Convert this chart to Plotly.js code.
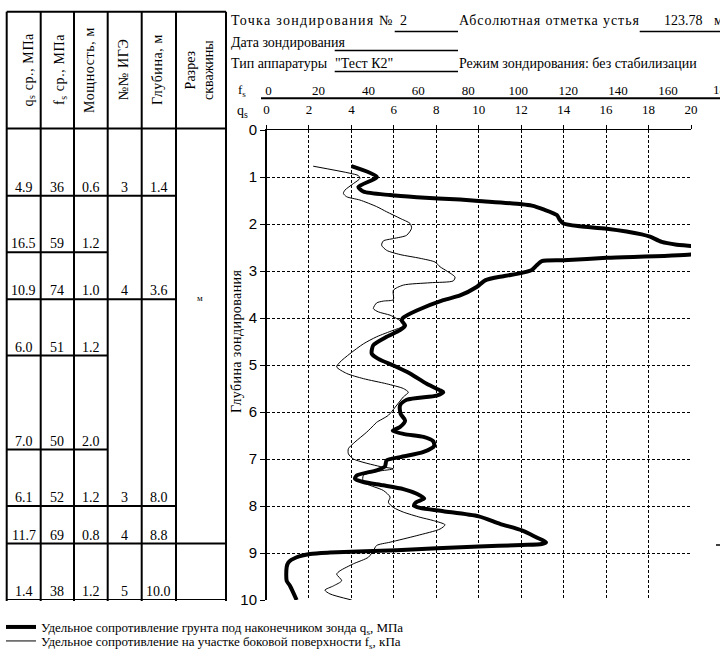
<!DOCTYPE html>
<html><head><meta charset="utf-8">
<script src="https://cdn.plot.ly/plotly-3.0.1.min.js"></script>
<style>html,body{margin:0;padding:0;background:#fff;}#chart{width:720px;height:651px;}</style>
</head><body><div id="chart"></div>
<script>
// ---- curve data (depth in m) ----
const qsDepth = [0.77,1.00,1.21,1.31,1.385,1.43,1.48,1.51,1.58,1.61,1.69,1.81,1.92,1.99,2.05,2.10,2.22,2.27,2.38,2.44,2.47,2.56,2.65,2.72,2.77,2.79,2.88,2.98,3.04,3.11,3.20,3.34,3.52,3.62,3.84,3.99,4.05,4.16,4.26,4.40,4.58,4.76,4.87,5.01,5.18,5.40,5.54,5.58,5.65,5.74,5.86,6.04,6.18,6.32,6.40,6.47,6.53,6.62,6.72,6.85,6.96,7.03,7.16,7.24,7.35,7.42,7.49,7.56,7.64,7.74,7.84,7.92,7.99,8.04,8.11,8.22,8.38,8.52,8.67,8.77,8.81,8.83,8.86,8.94,8.99,9.02,9.09,9.20,9.30,9.59,9.70,10.0];
const qsValues = [4.0,5.2,4.33,4.56,5.82,7.08,9.12,10.0,12.03,12.5,13.05,13.68,13.83,13.99,14.77,16.03,17.68,18.07,18.62,19.33,20.0,21.0,20.0,16.03,13.99,12.97,12.73,12.5,12.03,11.16,10.3,9.9,9.12,8.33,7.08,6.45,6.37,6.53,6.29,5.66,5.03,4.96,5.27,5.98,6.76,7.55,8.18,8.33,8.02,6.61,6.29,6.32,6.53,6.29,5.95,6.5,7.4,7.85,7.9,7.4,6.3,5.66,5.58,5.19,4.25,4.17,4.56,5.5,6.45,7.08,7.43,7.05,6.95,7.23,8.33,10.0,11.0,12.03,12.73,13.17,12.97,12.03,10.0,6.13,2.99,2.05,1.42,1.03,0.95,0.95,1.11,1.42];
const fsDepth = [0.77,0.92,0.97,1.03,1.14,1.28,1.35,1.42,1.49,1.63,1.74,1.88,1.99,2.09,2.24,2.31,2.36,2.45,2.56,2.65,2.73,2.81,2.91,3.00,3.13,3.21,3.25,3.30,3.41,3.61,3.64,3.68,3.80,3.87,3.94,4.01,4.11,4.18,4.26,4.40,4.55,4.76,4.94,5.04,5.18,5.29,5.40,5.50,5.58,5.68,5.90,6.07,6.22,6.29,6.43,6.64,6.78,6.89,7.00,7.16,7.21,7.26,7.35,7.49,7.67,7.81,7.92,8.03,8.13,8.24,8.31,8.40,8.49,8.63,8.77,8.84,8.95,9.09,9.23,9.38,9.45,9.59,9.70,9.79,9.87,10.0];
const fsValues = [17.9,32.6,36.0,36.6,34.0,30.6,30.0,31.3,36.6,43.3,47.3,52.7,56.7,57.3,55.3,50.0,46.0,45.3,47.3,52.7,60.7,66.7,68.7,71.4,74.7,74.0,64.7,54.0,50.0,50.0,46.0,43.3,42.0,44.0,48.7,51.3,54.0,53.7,50.0,43.3,38.0,32.6,28.6,27.3,31.3,38.0,47.3,54.0,56.0,54.0,50.7,48.0,43.3,42.0,39.3,34.6,32.0,32.0,34.0,44.7,50.0,44.0,38.0,38.0,46.0,48.7,48.0,50.0,54.0,60.7,66.0,70.7,68.7,59.4,48.7,43.3,42.0,40.0,34.0,28.6,27.3,29.3,26.0,22.6,24.6,33.3];

// ---- ticks ----
const depthTicks = [0,1,2,3,4,5,6,7,8,9,10];
const qsTicks = [0,2,4,6,8,10,12,14,16,18,20];
const fsTicks = [0,20,40,60,80,100,120,140,160];
const fsEdgeTick = 180;

// ---- layer table ----
const layerBottom = [1.4,2.6,3.6,4.8,6.8,8.0,8.8,10.0];
const layerQs = [4.9,16.5,10.9,6.0,7.0,6.1,11.7,1.4];
const layerFs = [36,59,74,51,50,52,69,38];
const layerThickness = [0.6,1.2,1.0,1.2,2.0,1.2,0.8,1.2];
const igeNumbers = [3,4,3,4,5];
const igeBottom = [1.4,3.6,8.0,8.8,10.0];
const sectionBottom = [8.8,10.0];
const sectionMark = 'м';

// ---- texts ----
const colHeaders = ['q<sub>s</sub> ср., МПа','f<sub>s</sub> ср., МПа','Мощность, м','№№ ИГЭ','Глубина, м','Разрез<br>скважины'];
const pointLabel = 'Точка зондирования №';
const pointNo = '2';
const elevLabel = 'Абсолютная отметка устья';
const elevValue = '123.78';
const elevUnit = 'м';
const dateLabel = 'Дата зондирования';
const deviceLabel = 'Тип аппаратуры';
const deviceValue = '"Тест К2"';
const modeLabel = 'Режим зондирования: без стабилизации';
const yTitle = 'Глубина зондирования';
const fsAxisLabel = 'f<sub>s</sub>';
const qsAxisLabel = 'q<sub>s</sub>';
const qsName = 'Удельное сопротивление грунта под наконечником зонда q<sub>s</sub>, МПа';
const fsName = 'Удельное сопротивление на участке боковой поверхности f<sub>s</sub>, кПа';

// ---- helpers (pixel -> paper) ----
const W = 720, H = 651;
const px = x => x / W;
const py = y => 1 - y / H;
const SERIF = 'Liberation Serif, Times New Roman, serif';
const SANS = 'Liberation Sans, Arial, sans-serif';
const spaced = (t, s) => '<span style="letter-spacing:' + s + 'px">' + t + '</span>';

const colX = [6.7, 40.7, 74, 107.7, 141.7, 176, 226];
const tableTop = 11.7, headerBottom = 128.5;
const shapes = [];
const ann = [];
const blk = {color:'black', width:2};

// table frame
colX.forEach(x => shapes.push({type:'line', xref:'paper', yref:'paper', x0:px(x), x1:px(x), y0:py(tableTop), y1:py(601), line:blk}));
shapes.push({type:'line', xref:'paper', yref:'paper', x0:px(colX[0]), x1:px(colX[6]), y0:py(tableTop), y1:py(tableTop), line:blk});
shapes.push({type:'line', xref:'paper', yref:'paper', x0:px(colX[0]), x1:px(colX[6]), y0:py(headerBottom), y1:py(headerBottom), line:blk});
// row lines from layer depths
layerBottom.forEach(d => shapes.push({type:'line', xref:'paper', yref:'y', x0:px(colX[0]), x1:px(colX[3]), y0:d, y1:d, line:blk}));
igeBottom.forEach(d => shapes.push({type:'line', xref:'paper', yref:'y', x0:px(colX[3]), x1:px(colX[5]), y0:d, y1:d, line:blk}));
sectionBottom.forEach(d => shapes.push({type:'line', xref:'paper', yref:'y', x0:px(colX[5]), x1:px(colX[6]), y0:d, y1:d, line:blk}));

const cellFont = {family:SERIF, size:14, color:'black'};
const cx = i => px((colX[i] + colX[i+1]) / 2);
const cell = (i, d, t) => ann.push({xref:'paper', yref:'y', x:cx(i), y:d, text:t, showarrow:false, xanchor:'center', yanchor:'bottom', font:cellFont, yshift:-1});
layerBottom.forEach((d, i) => {
  cell(0, d, layerQs[i].toFixed(1));
  cell(1, d, String(layerFs[i]));
  cell(2, d, layerThickness[i].toFixed(1));
});
igeBottom.forEach((d, i) => {
  cell(3, d, String(igeNumbers[i]));
  cell(4, d, d.toFixed(1));
});
ann.push({xref:'paper', yref:'paper', x:px(200), y:py(298), text:sectionMark, showarrow:false, xanchor:'center', yanchor:'middle', font:{family:SERIF, size:9, color:'black'}});

// column headers rotated
const hdrX = [28.5, 60, 89, 123, 157, 199];
colHeaders.forEach((t, i) => ann.push({xref:'paper', yref:'paper', x:px(hdrX[i]), y:py(70), text:(i === 5 ? t : spaced(t, 0.6)), textangle:-90, showarrow:false, xanchor:'center', yanchor:'middle', font:{family:SERIF, size:14, color:'black'}}));

// top header
const hFont = {family:SERIF, size:14, color:'black'};
const txt = (x, y, t, xa) => ann.push({xref:'paper', yref:'paper', x:px(x), y:py(y), text:t, showarrow:false, xanchor:xa || 'left', yanchor:'middle', font:hFont});
txt(229, 21, spaced(pointLabel, 1.3));
txt(403, 21, pointNo, 'center');
txt(457, 21, spaced(elevLabel, 0.9));
txt(683, 21, elevValue, 'center');
txt(712, 21, elevUnit);
txt(229, 43, dateLabel);
txt(229, 64, deviceLabel);
txt(333, 64, deviceValue);
txt(457, 64, modeLabel);
const ul = (x0, x1, y) => shapes.push({type:'line', xref:'paper', yref:'paper', x0:px(x0), x1:px(x1), y0:py(y), y1:py(y), line:{color:'black', width:1.5}});
ul(394.7, 458, 31.5); ul(639.7, 720, 31.5); ul(334.7, 458, 50.5); ul(334.7, 458, 71.5);
// fs axis line
shapes.push({type:'line', xref:'paper', yref:'paper', x0:px(261), x1:px(720), y0:py(98.3), y1:py(98.3), line:{color:'black', width:2}});
// tiny mark at right edge
shapes.push({type:'line', xref:'paper', yref:'paper', x0:px(716), x1:px(720), y0:py(545), y1:py(545), line:{color:'black', width:1.5}});

ann.push({xref:'paper', yref:'paper', x:px(236), y:py(90), text:fsAxisLabel, showarrow:false, xanchor:'left', yanchor:'middle', font:{family:SERIF, size:13, color:'black'}});
ann.push({xref:'paper', yref:'paper', x:px(235), y:py(111), text:qsAxisLabel, showarrow:false, xanchor:'left', yanchor:'middle', font:{family:SERIF, size:14, color:'black'}});
ann.push({xref:'paper', yref:'paper', x:px(711), y:py(89), text:String(fsEdgeTick), showarrow:false, xanchor:'left', yanchor:'middle', font:{family:SERIF, size:13, color:'black'}});
ann.push({xref:'paper', yref:'paper', x:px(237), y:py(342), text:spaced(yTitle, 0.4), textangle:-90, showarrow:false, xanchor:'center', yanchor:'middle', font:{family:SERIF, size:14, color:'black'}});

const traces = [
  {x:qsValues, y:qsDepth, xaxis:'x', yaxis:'y', mode:'lines', name:qsName, legend:'legend',
   line:{color:'black', width:4, shape:'spline', smoothing:0.7}},
  {x:fsValues, y:fsDepth, xaxis:'x2', yaxis:'y', mode:'lines', name:fsName, legend:'legend2',
   line:{color:'black', width:1, shape:'spline', smoothing:0.7}}
];

const gridDash = '3px,2px';
const layout = {
  width:W, height:H, margin:{l:0, r:0, t:0, b:0, pad:0, autoexpand:false},
  paper_bgcolor:'white', plot_bgcolor:'white',
  font:{family:SERIF, size:13, color:'black'},
  showlegend:true,
  xaxis:{domain:[px(266.5), px(691)], range:[0,20], side:'top', anchor:'y',
    tickmode:'array', tickvals:qsTicks, ticktext:qsTicks.map(String),
    ticks:'outside', ticklen:4, tickcolor:'black', tickwidth:1,
    showline:true, linecolor:'black', linewidth:1.5,
    showgrid:true, gridcolor:'black', gridwidth:1, griddash:gridDash, zeroline:false,
    tickfont:{family:SERIF, size:13, color:'black'}, ticklabelstandoff:5, fixedrange:true},
  xaxis2:{overlaying:'x', anchor:'free', position:py(98.3), side:'top', range:[-0.8, 169.2],
    tickmode:'array', tickvals:fsTicks, ticktext:fsTicks.map(String), ticks:'',
    showline:false, showgrid:false, zeroline:false,
    tickfont:{family:SERIF, size:13, color:'black'}, ticklabelstandoff:1, fixedrange:true},
  yaxis:{domain:[py(600), py(130)], range:[10,0], anchor:'x',
    tickmode:'array', tickvals:depthTicks, ticktext:depthTicks.map(String),
    ticks:'outside', ticklen:5, tickcolor:'black', tickwidth:1,
    showline:true, linecolor:'black', linewidth:1.5,
    showgrid:true, gridcolor:'black', gridwidth:1, griddash:gridDash, zeroline:false,
    tickfont:{family:SANS, size:15, color:'black'}, ticklabelstandoff:0, fixedrange:true},
  legend:{x:px(1), y:py(642), xanchor:'left', yanchor:'bottom', bgcolor:'rgba(0,0,0,0)', borderwidth:0,
    font:{family:SERIF, size:13, color:'black'}, itemwidth:30},
  legend2:{x:px(1), y:py(656), xanchor:'left', yanchor:'bottom', bgcolor:'rgba(0,0,0,0)', borderwidth:0,
    font:{family:SERIF, size:13, color:'black'}, itemwidth:30},
  shapes:shapes, annotations:ann
};
Plotly.newPlot('chart', traces, layout, {displayModeBar:false, staticPlot:true});
</script></body></html>
